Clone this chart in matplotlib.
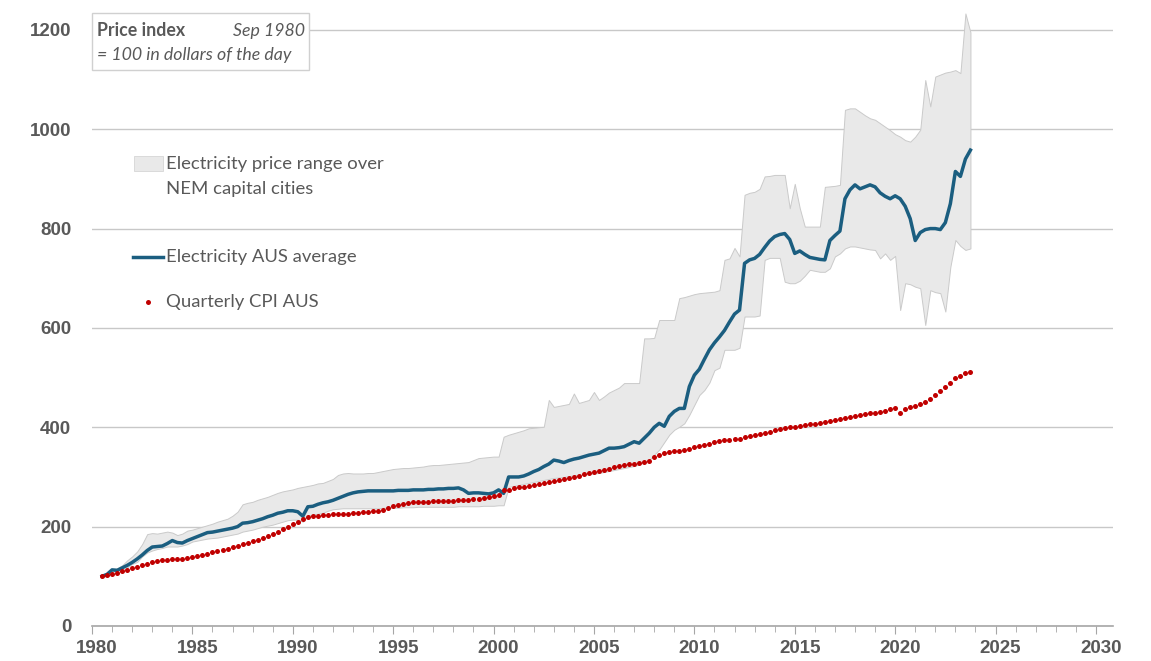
import numpy as np
import matplotlib
matplotlib.use("Agg")
import matplotlib.pyplot as plt
from matplotlib.lines import Line2D
from matplotlib.patches import Rectangle
from matplotlib.transforms import ScaledTranslation

# quarterly series, Sep 1980 .. Dec 2023 (index, Sep 1980 = 100)
elec_avg = [100, 104,
            113, 112, 117, 122,  128, 135, 143, 152,  159, 160, 161, 166,  172, 168, 167, 172,
            176, 180, 184, 188,  189, 191, 193, 195,  197, 200, 207, 208,  210, 213, 216, 220,
            223, 227, 229, 232,  232, 230, 221, 240,  241, 245, 248, 250,  253, 257, 261, 265,
            268, 270, 271, 272,  272, 272, 272, 272,  272, 273, 273, 273,  274, 274, 274, 275,
            275, 276, 276, 277,  277, 278, 274, 267,  268, 268, 267, 266,  268, 274, 267, 300,
            300, 300, 302, 306,  311, 315, 321, 326,  334, 332, 329, 333,  336, 338, 341, 344,
            346, 348, 353, 358,  358, 359, 361, 366,  371, 368, 378, 388,  400, 408, 402, 422,
            432, 438, 438, 482,  505, 517, 537, 556,  570, 582, 595, 612,  628, 636, 730, 737,
            740, 748, 762, 775,  784, 788, 790, 778,  750, 755, 748, 742,  740, 738, 737, 776,
            786, 795, 860, 878,  888, 880, 884, 888,  884, 872, 865, 860,  866, 860, 845, 820,
            776, 792, 798, 800,  800, 798, 812, 850,  915, 905, 940, 958]
elec_hi = [100, 106,
           115, 116, 122, 132,  140, 150, 165, 185,  187, 186, 188, 190,  188, 183, 186, 192,
           194, 197, 200, 203,  206, 210, 213, 216,  222, 230, 245, 248,  250, 254, 257, 260,
           264, 268, 271, 273,  275, 278, 280, 282,  284, 287, 288, 292,  296, 304, 307, 308,
           307, 307, 307, 308,  308, 310, 312, 314,  316, 317, 318, 318,  319, 320, 321, 323,
           324, 324, 325, 326,  327, 328, 329, 330,  334, 338, 339, 340,  341, 341, 381, 385,
           388, 391, 394, 398,  399, 400, 401, 455,  441, 443, 445, 447,  468, 449, 452, 455,
           471, 455, 462, 470,  475, 480, 489, 489,  489, 489, 579, 579,  580, 616, 616, 616,
           616, 660, 662, 665,  668, 670, 671, 672,  673, 676, 737, 740,  761, 744, 868, 872,
           874, 880, 905, 906,  908, 908, 908, 841,  890, 841, 804, 804,  804, 804, 884, 885,
           886, 888, 1039, 1042,  1042, 1035, 1028, 1022,  1019, 1012, 1005, 998,  990, 985, 978, 975,
           985, 999, 1099, 1046,  1106, 1110, 1114, 1116,  1119, 1113, 1233, 1195]
elec_lo = [100, 100,
           104, 107, 110, 118,  125, 129, 140, 148,  152, 155, 157, 160,  160, 160, 162, 165,
           170, 172, 174, 176,  177, 178, 180, 182,  184, 186, 190, 192,  194, 197, 200, 202,
           204, 207, 210, 213,  214, 214, 210, 222,  224, 226, 228, 232,  235, 236, 237, 237,
           237, 237, 237, 237,  237, 237, 238, 238,  238, 238, 239, 239,  239, 240, 240, 240,
           240, 240, 240, 240,  240, 241, 241, 241,  241, 241, 242, 242,  242, 243, 243, 280,
           282, 284, 286, 288,  290, 292, 294, 296,  298, 299, 300, 302,  303, 304, 305, 306,
           307, 308, 310, 312,  314, 316, 318, 320,  322, 325, 330, 334,  345, 355, 370, 385,
           395, 401, 408, 425,  445, 465, 475, 490,  515, 520, 556, 556,  556, 560, 623, 623,
           623, 625, 737, 741,  741, 741, 693, 690,  690, 695, 705, 717,  715, 713, 713, 720,
           744, 750, 760, 764,  764, 762, 760, 758,  757, 740, 750, 737,  745, 636, 690, 688,
           683, 680, 606, 676,  672, 670, 633, 723,  777, 765, 757, 760]
cpi = [100, 102,
       104, 107, 110, 113,  116, 119, 122, 125,  128, 130, 132, 133,  135, 134, 135, 136,
       138, 140, 142, 145,  148, 150, 153, 156,  159, 162, 165, 168,  171, 174, 177, 181,
       185, 190, 195, 200,  205, 210, 215, 219,  221, 222, 223, 224,  225, 225, 226, 226,
       227, 228, 229, 230,  231, 232, 234, 237,  241, 244, 246, 248,  249, 250, 250, 250,
       251, 251, 251, 252,  252, 253, 254, 254,  255, 256, 257, 259,  261, 264, 273, 274,
       277, 279, 280, 282,  284, 286, 288, 290,  292, 294, 296, 298,  300, 302, 305, 307,
       309, 312, 315, 317,  320, 322, 324, 326,  327, 329, 331, 333,  340, 344, 349, 351,
       352, 353, 355, 357,  360, 362, 364, 366,  370, 373, 374, 375,  376, 377, 381, 382,
       384, 386, 389, 391,  394, 396, 398, 400,  401, 403, 405, 406,  407, 409, 411, 413,
       415, 417, 419, 421,  423, 425, 427, 429.5,  429.5, 431, 433, 437,  438, 429.5, 437, 440,
       443, 447, 450, 456,  465, 474, 482, 490,  499, 503, 509, 512]

dates = 1980.5 + 0.25 * np.arange(len(cpi))

GREY = "#595959"
BLUE = "#1B5E80"
RED = "#C00000"
TICKFONT = ["Liberation Sans", "DejaVu Sans"]
TEXTFONT = ["Lato", "DejaVu Sans"]

W, H = 1151, 661
fig = plt.figure(figsize=(W / 100, H / 100), dpi=100)
ax = fig.add_axes([92 / W, 1 - 626 / H, (1113 - 92) / W, (626 - 10) / H])


def px(x, y):
    return x / W, 1 - y / H


ax.fill_between(dates, elec_lo, elec_hi, color="#E9E9E9", edgecolor="#CACACA", lw=0.7, zorder=2)
ax.plot(dates, elec_avg, color=BLUE, lw=2.5, zorder=3)
ax.plot(dates, cpi, ls="none", marker="o", ms=3.6, color=RED, mec="none", zorder=4)

ax.set_xlim(1980, 2030.85)
ax.set_ylim(0, 1240)
ax.set_yticks(range(0, 1201, 200))
ax.set_xticks(range(1980, 2031, 5))
ax.set_xticks(range(1980, 2031), minor=True)
ax.grid(axis="y", color="#C8C8C8", lw=1, zorder=0)
for s in ["top", "right", "left"]:
    ax.spines[s].set_visible(False)
ax.spines["bottom"].set_color("#A6A6A6")
ax.spines["bottom"].set_linewidth(1.2)
ax.tick_params(axis="y", length=0, pad=15, labelcolor=GREY, labelsize=13.5)
ax.tick_params(axis="x", which="major", length=6, color="#A6A6A6", pad=4, labelcolor=GREY, labelsize=13.5)
ax.tick_params(axis="x", which="minor", length=4, color="#A6A6A6")
for lab in ax.get_xticklabels() + ax.get_yticklabels():
    lab.set_fontfamily(TICKFONT)
    lab.set_fontweight("bold")
shift = ScaledTranslation(5 / 100, 0, fig.dpi_scale_trans)
for lab in ax.get_xticklabels():
    lab.set_transform(lab.get_transform() + shift)

# title box
fig.patches.append(Rectangle(px(92, 70), 217 / W, 57 / H, transform=fig.transFigure,
                             facecolor="white", edgecolor="#D0D0D0", lw=1))
fig.text(*px(97, 31), "Price index", fontsize=12.8, fontweight="bold", color=GREY,
         family=TEXTFONT, va="center", ha="left")
fig.text(*px(305, 31), "Sep 1980", fontsize=12.8, style="italic", color=GREY,
         family=TEXTFONT, va="center", ha="right")
fig.text(*px(97, 55), "= 100 in dollars of the day", fontsize=12.8, style="italic", color=GREY,
         family=TEXTFONT, va="center", ha="left")

# legend
fig.patches.append(Rectangle(px(134, 171), 29 / W, 15 / H, transform=fig.transFigure,
                             facecolor="#E9E9E9", edgecolor="#D6D6D6", lw=0.6))
fig.text(*px(166, 164), "Electricity price range over", fontsize=13.3, color=GREY,
         family=TEXTFONT, va="center", ha="left")
fig.text(*px(166, 189), "NEM capital cities", fontsize=13.3, color=GREY,
         family=TEXTFONT, va="center", ha="left")
fig.lines.append(Line2D([133 / W, 163 / W], [1 - 257 / H] * 2, transform=fig.transFigure,
                        color=BLUE, lw=2.5))
fig.text(*px(166, 257), "Electricity AUS average", fontsize=13.3, color=GREY,
         family=TEXTFONT, va="center", ha="left")
fig.lines.append(Line2D([148 / W], [1 - 302 / H], transform=fig.transFigure, ls="none",
                        marker="o", ms=3.6, color=RED, mec="none"))
fig.text(*px(166, 302), "Quarterly CPI AUS", fontsize=13.3, color=GREY,
         family=TEXTFONT, va="center", ha="left")

fig.savefig("out.png", dpi=100)
